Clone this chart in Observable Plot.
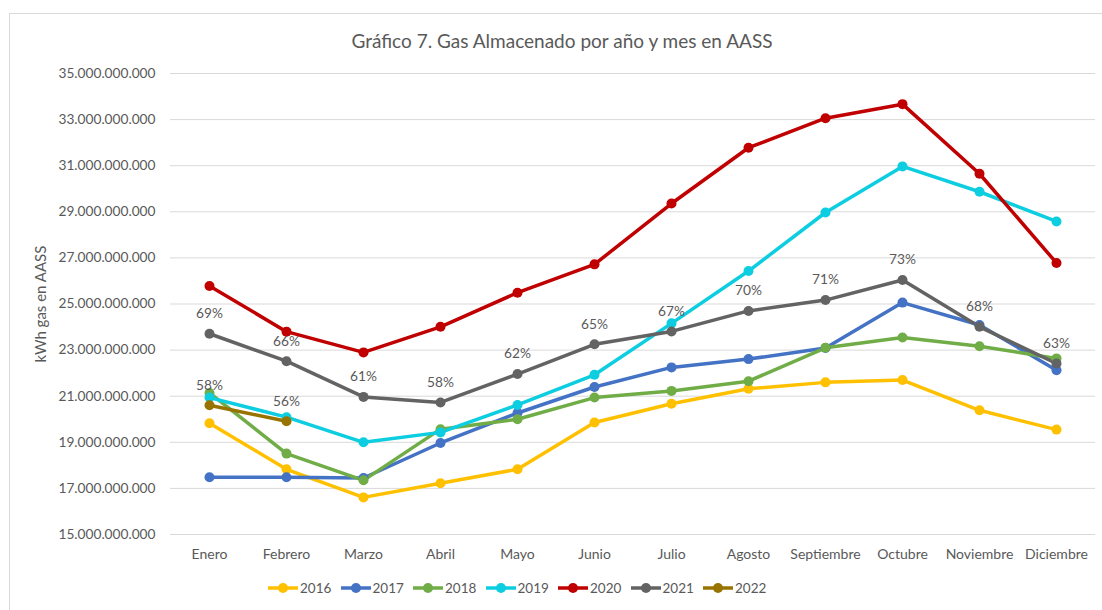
<!DOCTYPE html>
<html>
<head>
<meta charset="utf-8">
<script src="https://cdn.jsdelivr.net/npm/d3@7"></script>
<script src="https://cdn.jsdelivr.net/npm/@observablehq/plot@0.6"></script>
<style>
  body { margin: 0; background: #fff; }
  #wrap { position: relative; width: 1102px; height: 610px; overflow: hidden; font-family: Lato, "Open Sans", sans-serif; color: #595959; }
  #border { position: absolute; left: 9px; top: 13px; width: 1110px; height: 620px; border: 1px solid #d9d9d9; box-sizing: border-box; }
  #title { position: absolute; top: 29px; left: 0; width: 1124px; text-align: center; font-size: 19px; color: #595959; }
  #chart { position: absolute; left: 0; top: 0; }
  #legend { position: absolute; left: 268px; top: 578px; display: flex; font-size: 13.5px; color: #595959; }
  .item { display: inline-flex; align-items: center; width: 72.5px; height: 20px; }
  .item span { margin-left: 2px; }
</style>
</head>
<body>
<div id="wrap">
  <div id="border"></div>
  <div id="title">Gráfico 7. Gas Almacenado por año y mes en AASS</div>
  <div id="chart"></div>
  <div id="legend"></div>
</div>
<script>
const months = ["Enero","Febrero","Marzo","Abril","Mayo","Junio","Julio","Agosto","Septiembre","Octubre","Noviembre","Diciembre"];
const years = ["2016","2017","2018","2019","2020","2021","2022"];
const colors = ["#FFC000","#4472C4","#70AD47","#0DCDE0","#C00000","#636363","#997300"];

// values in kWh (billions)
const y2016 = [19.83,17.83,16.61,17.22,17.83,19.86,20.67,21.32,21.60,21.70,20.39,19.55];
const y2017 = [17.48,17.48,17.45,18.97,20.27,21.40,22.25,22.61,23.09,25.06,24.09,22.13];
const y2018 = [21.14,18.51,17.35,19.57,20.00,20.94,21.23,21.65,23.10,23.55,23.17,22.64];
const y2019 = [20.94,20.09,19.00,19.43,20.62,21.93,24.16,26.43,28.97,30.97,29.87,28.58];
const y2020 = [25.78,23.80,22.90,24.01,25.49,26.72,29.36,31.78,33.06,33.67,30.65,26.78];
const y2021 = [23.71,22.52,20.97,20.73,21.96,23.25,23.81,24.70,25.17,26.04,24.01,22.42];
const y2022 = [20.61,19.91];

const pct2021 = ["69%","66%","61%","58%","62%","65%","67%","70%","71%","73%","68%","63%"];
const pct2022 = ["58%","56%"];

const yTicks = [15e9,17e9,19e9,21e9,23e9,25e9,27e9,29e9,31e9,33e9,35e9];

const series = [y2016,y2017,y2018,y2019,y2020,y2021,y2022];
const data = series.flatMap((vals, i) => vals.map((v, j) => ({year: years[i], month: months[j], value: v * 1e9})));
const labels = [
  ...y2021.map((v, j) => ({month: months[j], value: v * 1e9, pct: pct2021[j]})),
  ...y2022.map((v, j) => ({month: months[j], value: v * 1e9, pct: pct2022[j]}))
];

const loc = d3.formatLocale({decimal: ",", thousands: ".", grouping: [3], currency: ["", "€"]});
const fmt = loc.format(",.0f");

const plot = Plot.plot({
  width: 1102,
  height: 610,
  marginLeft: 170,
  marginRight: 7,
  marginTop: 73,
  marginBottom: 76,
  style: {fontFamily: "Lato, 'Open Sans', sans-serif", fontSize: "13.5px", color: "#595959", background: "transparent", overflow: "visible"},
  x: {type: "point", domain: months, padding: 0.5},
  y: {domain: [15e9, 35e9]},
  color: {domain: years, range: colors},
  marks: [
    Plot.ruleY(yTicks, {stroke: "#d9d9d9", strokeWidth: 1}),
    Plot.axisY({ticks: yTicks, tickFormat: fmt, tickSize: 0, tickPadding: 15, label: null, fill: "#595959", fontSize: 13.7}),
    Plot.axisY({ticks: [], label: "kWh gas en AASS", labelAnchor: "center", labelArrow: "none", labelOffset: 135, fill: "#595959", fontSize: 15}),
    Plot.axisX({tickSize: 0, tickPadding: 15, label: null, fill: "#595959", fontSize: 14}),
    Plot.line(data, {x: "month", y: "value", z: "year", stroke: "year", strokeWidth: 3.5, strokeLinejoin: "round"}),
    Plot.dot(data, {x: "month", y: "value", fill: "year", r: 5}),
    Plot.text(labels, {x: "month", y: "value", text: "pct", dy: -20, fill: "#595959", fontSize: 13.7})
  ]
});
document.getElementById("chart").appendChild(plot);

const legend = document.getElementById("legend");
years.forEach((yr, i) => {
  const item = document.createElement("div");
  item.className = "item";
  item.innerHTML = `<svg width="30" height="12"><line x1="0" y1="6" x2="30" y2="6" stroke="${colors[i]}" stroke-width="3.5"/><circle cx="15" cy="6" r="5" fill="${colors[i]}"/></svg><span>${yr}</span>`;
  legend.appendChild(item);
});
</script>
</body>
</html>
